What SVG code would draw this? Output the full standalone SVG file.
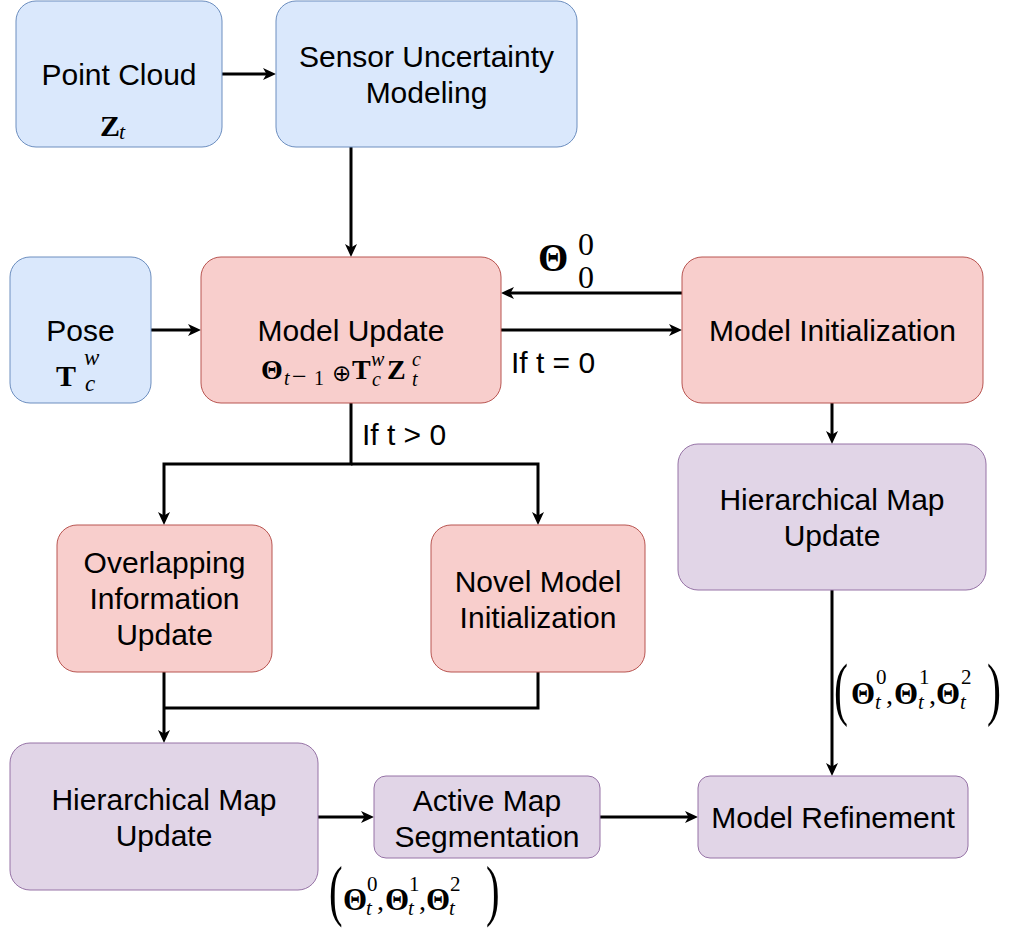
<svg xmlns="http://www.w3.org/2000/svg" width="1014" height="930" viewBox="0 0 1014 930">
<style>
.blue{fill:#dae8fc;stroke:#6c8ebf;stroke-width:1}
.red{fill:#f8cecc;stroke:#b85450;stroke-width:1}
.purple{fill:#e1d5e7;stroke:#9673a6;stroke-width:1}
.lbl{font-family:"Liberation Sans",Arial,sans-serif;font-size:30px;fill:#000;text-anchor:middle}
.m{font-family:"Liberation Serif","DejaVu Serif",serif;fill:#000}
.b{font-weight:bold}
.i{font-style:italic}
.op{font-family:"DejaVu Sans",sans-serif}
.conn{fill:none;stroke:#000;stroke-width:3}
</style>
<defs>
<marker id="arr" viewBox="0 0 13 12" refX="5" refY="6" markerWidth="13" markerHeight="12" markerUnits="userSpaceOnUse" orient="auto">
<path d="M0,0 L13,6 L0,12 L3.5,6 Z" fill="#000"/>
</marker>
</defs>

<g id="connectors">
<path class="conn" d="M222,74 H268" marker-end="url(#arr)"/>
<path class="conn" d="M351,147 V249" marker-end="url(#arr)"/>
<path class="conn" d="M151,330 H193" marker-end="url(#arr)"/>
<path class="conn" d="M682,293 H509" marker-end="url(#arr)"/>
<path class="conn" d="M501,330 H674" marker-end="url(#arr)"/>
<path class="conn" d="M351,403 V464 H164 V517" marker-end="url(#arr)"/>
<path class="conn" d="M351,464 H538 V517" marker-end="url(#arr)"/>
<path class="conn" d="M832,403 V436" marker-end="url(#arr)"/>
<path class="conn" d="M832,590 V768" marker-end="url(#arr)"/>
<path class="conn" d="M164,672 V735" marker-end="url(#arr)"/>
<path class="conn" d="M538,672 V708 H164"/>
<path class="conn" d="M318,817 H366" marker-end="url(#arr)"/>
<path class="conn" d="M600,817 H690" marker-end="url(#arr)"/>
<text class="lbl" x="553" y="373">If t = 0</text>
<text class="lbl" x="404" y="445">If t &gt; 0</text>
<g class="m">
<text class="b" x="538" y="271" font-size="39">Θ</text>
<text x="578" y="255" font-size="32">0</text>
<text x="578" y="288" font-size="32">0</text>
</g>
<g class="m" id="tuple-right">
<text transform="translate(834,712) scale(0.6,1)" font-size="70">(</text>
<text class="b" x="851" y="704" font-size="31">Θ</text>
<text x="876" y="684" font-size="21">0</text>
<text class="i" x="875" y="709" font-size="21">t</text>
<text x="886" y="704" font-size="28">,</text>
<text class="b" x="894" y="704" font-size="31">Θ</text>
<text x="919" y="684" font-size="21">1</text>
<text class="i" x="918" y="709" font-size="21">t</text>
<text x="929" y="704" font-size="28">,</text>
<text class="b" x="936" y="704" font-size="31">Θ</text>
<text x="961" y="684" font-size="21">2</text>
<text class="i" x="960" y="709" font-size="21">t</text>
<text transform="translate(987,712) scale(0.6,1)" font-size="70">)</text>
</g>
<g class="m" id="tuple-bottom">
<text transform="translate(329,913) scale(0.6,1)" font-size="68">(</text>
<text class="b" x="343" y="910" font-size="31">Θ</text>
<text x="367" y="891" font-size="21">0</text>
<text class="i" x="366" y="915" font-size="21">t</text>
<text x="377" y="910" font-size="28">,</text>
<text class="b" x="385" y="910" font-size="31">Θ</text>
<text x="409" y="891" font-size="21">1</text>
<text class="i" x="408" y="915" font-size="21">t</text>
<text x="419" y="910" font-size="28">,</text>
<text class="b" x="426" y="910" font-size="31">Θ</text>
<text x="450" y="891" font-size="21">2</text>
<text class="i" x="449" y="915" font-size="21">t</text>
<text transform="translate(486,913) scale(0.6,1)" font-size="68">)</text>
</g>
</g>

<g id="point-cloud">
<rect class="blue" x="16" y="1" width="206" height="146" rx="20"/>
<text class="lbl" x="119" y="85">Point Cloud</text>
<text class="m b" x="100" y="136" font-size="30">Z</text>
<text class="m i" x="119" y="139" font-size="22">t</text>
</g>

<g id="sensor-uncertainty">
<rect class="blue" x="276" y="1" width="301" height="146" rx="20"/>
<text class="lbl" x="426.5" y="67">Sensor Uncertainty</text>
<text class="lbl" x="426.5" y="103">Modeling</text>
</g>

<g id="pose">
<rect class="blue" x="10" y="257" width="141" height="146" rx="20"/>
<text class="lbl" x="80.5" y="341">Pose</text>
<text class="m b" x="56" y="386" font-size="30">T</text>
<text class="m i" x="84" y="365" font-size="23">w</text>
<text class="m i" x="85" y="391" font-size="23">c</text>
</g>

<g id="model-update">
<rect class="red" x="201" y="257" width="300" height="146" rx="20"/>
<text class="lbl" x="351" y="341">Model Update</text>
<g class="m">
<text class="b" x="261" y="379" font-size="28">Θ</text>
<text class="i" x="284" y="385" font-size="20">t</text>
<text x="292" y="385" font-size="26">−</text>
<text x="314" y="385" font-size="20">1</text>
<text class="op" x="332" y="381" font-size="23">⊕</text>
<text class="b" x="352" y="379" font-size="28">T</text>
<text class="i" x="371" y="366" font-size="20">w</text>
<text class="i" x="372" y="386" font-size="20">c</text>
<text class="b" x="387" y="379" font-size="28">Z</text>
<text class="i" x="412" y="366" font-size="20">c</text>
<text class="i" x="412" y="386" font-size="20">t</text>
</g>
</g>

<g id="model-initialization">
<rect class="red" x="682" y="257" width="301" height="146" rx="20"/>
<text class="lbl" x="832.5" y="341">Model Initialization</text>
</g>

<g id="hier-map-update-right">
<rect class="purple" x="678" y="444" width="308" height="146" rx="20"/>
<text class="lbl" x="832" y="510">Hierarchical Map</text>
<text class="lbl" x="832" y="546">Update</text>
</g>

<g id="overlapping-info-update">
<rect class="red" x="57" y="525" width="215" height="147" rx="20"/>
<text class="lbl" x="164.5" y="573">Overlapping</text>
<text class="lbl" x="164.5" y="609">Information</text>
<text class="lbl" x="164.5" y="645">Update</text>
</g>

<g id="novel-model-init">
<rect class="red" x="431" y="525" width="214" height="147" rx="20"/>
<text class="lbl" x="538" y="592">Novel Model</text>
<text class="lbl" x="538" y="628">Initialization</text>
</g>

<g id="hier-map-update-left">
<rect class="purple" x="10" y="743" width="308" height="147" rx="20"/>
<text class="lbl" x="164" y="810">Hierarchical Map</text>
<text class="lbl" x="164" y="846">Update</text>
</g>

<g id="active-map-segmentation">
<rect class="purple" x="374" y="776" width="226" height="82" rx="12"/>
<text class="lbl" x="487" y="811">Active Map</text>
<text class="lbl" x="487" y="847">Segmentation</text>
</g>

<g id="model-refinement">
<rect class="purple" x="698" y="776" width="270" height="82" rx="12"/>
<text class="lbl" x="833" y="828">Model Refinement</text>
</g>
</svg>
